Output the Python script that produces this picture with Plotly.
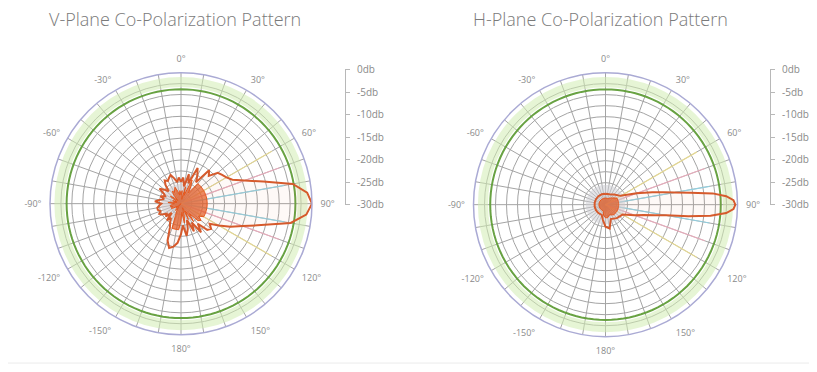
import plotly.graph_objects as go

# ---------------- data ----------------
titles = ["V-Plane Co-Polarization Pattern", "H-Plane Co-Polarization Pattern"]

v_theta = list(range(0, 360, 5))
v_db = [-25, -24, -26, -23, -25, -21, -22.5, -24, -20, -21, -19, -18.5,
        -18, -17, -14.5, -10.5, -4, -1, 0, -1.2, -4.5, -11, -15, -17.5,
        -20, -22, -21, -21.5, -24, -22, -25, -23, -26, -24, -22.5, -25,
        -23, -21, -20, -19.5, -21, -24, -25, -26, -25, -27, -25.5, -26,
        -25, -24.5, -25, -24.5, -24.5, -25, -25.5, -24, -25, -26, -25, -26,
        -25.5, -24, -25, -26, -24.5, -23.5, -24, -23.5, -23, -24, -25, -24]

h_theta = [0, 20, 40, 60, 70, 75, 78, 80, 82, 84, 86, 88, 90, 92, 94, 96, 98,
           100, 102, 105, 110, 120, 140, 160, 170, 180, 190, 200, 220, 240,
           260, 280, 300, 320, 340]
h_db = [-27.5, -27.5, -27, -26, -22.5, -19, -16.5, -14, -10.5, -5.5, -2.5, -0.9,
        -0.5, -0.9, -2.5, -6, -11, -16, -18.5, -21, -23, -25.5, -26, -26.5,
        -24.5, -25, -26.5, -27.5, -27.5, -27.5, -27.5, -27.5, -27.5, -27.5, -27.5]

scale_vals = [0, -5, -10, -15, -20, -25, -30]
scale_text = ["0db", "-5db", "-10db", "-15db", "-20db", "-25db", "-30db"]

ang_ticks = list(range(0, 360, 10))
ang_label_map = {0: "0°", 30: "30°", 60: "60°", 90: "90°", 120: "120°", 150: "150°",
                 180: "180°", 210: "-150°", 240: "-120°", 270: "-90°", 300: "-60°", 330: "-30°"}
ang_text = [ang_label_map.get(a, "") for a in ang_ticks]

ring_ticks = [-27.5, -25, -22.5, -20, -17.5, -15, -12.5, -10, -7.5, -5, -2.5]
green_level = -3.8
band_base, band_width = -3.3, 2.3
# inner (core) outline: clip level and inward shift per chart
core_clip = [-21, -26]
core_shift = [3, 1]
disk_level = -25.5
full_circle = list(range(0, 361, 3))

# decorative coloured spokes: (angle, colour)
spokes = [(70, "rgba(245,170,190,0.8)"), (80, "rgba(140,215,235,0.8)"),
          (100, "rgba(140,215,235,0.8)"), (110, "rgba(245,170,190,0.8)"),
          (120, "rgba(240,225,140,0.8)"), (60, "rgba(240,225,140,0.8)")]
spoke_range = [-30, -6]

# ---------------- geometry helpers (page px -> paper) ----------------
W, H = 801, 356
TOP, SPAN_Y, LEFT, SPAN_X = 16, 340, 8, 800


def px(x):
    return (x - LEFT) / SPAN_X


def py(y):
    return 1 - (y - TOP) / SPAN_Y


# ---------------- figure ----------------
fig = go.Figure()
LINE = "#d65a2c"

for i, (sub, th, db) in enumerate([("polar", v_theta, v_db), ("polar2", h_theta, h_db)]):
    fig.add_trace(go.Barpolar(r=[band_width], base=[band_base], theta=[0], width=[360],
                              marker=dict(color="rgba(210,236,178,0.55)", line=dict(width=0)),
                              subplot=sub, hoverinfo="skip", showlegend=False))
    for ang, col in spokes:
        fig.add_trace(go.Scatterpolar(r=spoke_range, theta=[ang, ang], mode="lines",
                                      line=dict(color=col, width=1.2),
                                      subplot=sub, hoverinfo="skip", showlegend=False))
    fig.add_trace(go.Scatterpolar(r=[disk_level] * len(full_circle), theta=full_circle,
                                  mode="lines", line=dict(width=0), fill="toself",
                                  fillcolor="rgba(205,205,212,0.55)",
                                  subplot=sub, hoverinfo="skip", showlegend=False))
    fig.add_trace(go.Scatterpolar(r=[green_level] * len(full_circle), theta=full_circle,
                                  mode="lines", line=dict(color="#68a242", width=2),
                                  subplot=sub, hoverinfo="skip", showlegend=False))
    fig.add_trace(go.Scatterpolar(r=db + [db[0]], theta=th + [th[0]], mode="lines",
                                  line=dict(color=LINE, width=2), fill="toself",
                                  fillcolor="rgba(240,130,90,0.05)",
                                  subplot=sub, showlegend=False))
    core = [max(-30, min(v, core_clip[i]) - core_shift[i]) for v in db]
    fig.add_trace(go.Scatterpolar(r=core + [core[0]], theta=th + [th[0]], mode="lines",
                                  line=dict(color="#e4581f", width=1), fill="toself",
                                  fillcolor="rgba(228,88,32,0.7)",
                                  subplot=sub, hoverinfo="skip", showlegend=False))

polar_common = dict(
    bgcolor="white",
    angularaxis=dict(rotation=90, direction="clockwise", tickvals=ang_ticks,
                     ticktext=ang_text, ticks="outside", ticklen=6,
                     tickcolor="rgba(0,0,0,0)", showline=True,
                     linecolor="#aaaad4", linewidth=1.5,
                     gridcolor="#a4a4a4", gridwidth=1,
                     tickfont=dict(family="Open Sans", size=9, color="#8a8a8a")),
    radialaxis=dict(range=[-30, 0], tickvals=ring_ticks, showticklabels=False,
                    ticks="", showline=False, gridcolor="#a4a4a4", gridwidth=1),
)

# reference circles: left centre (181,203) r 131 ; right centre (605.5,204) r 132
fig.update_layout(
    width=W, height=H,
    margin=dict(l=0, r=0, t=0, b=0),
    paper_bgcolor="white", plot_bgcolor="white",
    polar=dict(domain=dict(x=[px(50), px(312)], y=[py(334), py(72)]), **polar_common),
    polar2=dict(domain=dict(x=[px(473.5), px(737.5)], y=[py(336), py(72)]), **polar_common),
)

# scale bars via cartesian axes
for xa, ya in [("x", "y"), ("x2", "y2")]:
    fig.add_trace(go.Scatter(x=[0] * len(scale_vals), y=scale_vals, mode="markers",
                             marker=dict(opacity=0), xaxis=xa, yaxis=ya,
                             hoverinfo="skip", showlegend=False))

yax = dict(range=[-30, 0], domain=[py(204), py(70)], tickvals=scale_vals,
           ticktext=scale_text, side="right", showline=True, linecolor="#b8b8b8",
           linewidth=1, ticks="outside", ticklen=4, tickcolor="#b8b8b8",
           ticklabelstandoff=5,
           showgrid=False, zeroline=False, anchor="free",
           tickfont=dict(family="Open Sans", size=10, color="#8a8a8a"))
xax = dict(visible=False, range=[0, 1], domain=[0, 0.01])
fig.update_layout(
    xaxis=dict(xax, anchor="y"), xaxis2=dict(xax, anchor="y2"),
    yaxis=dict(yax, position=px(345)),
    yaxis2=dict(yax, position=px(770)),
    showlegend=False,
)

# titles
for t, cx in zip(titles, [175, 600]):
    fig.add_annotation(text=t, x=px(cx), y=py(20), xref="paper", yref="paper",
                       showarrow=False, xanchor="center", yanchor="middle",
                       font=dict(family="Open Sans", size=18, color="#7a7a7a", weight=300))

# bottom separator
fig.add_shape(type="line", xref="paper", yref="paper", x0=-0.01, x1=1.01,
              y0=py(361), y1=py(361), line=dict(color="#ebebeb", width=1))

fig.write_html("out.html")
